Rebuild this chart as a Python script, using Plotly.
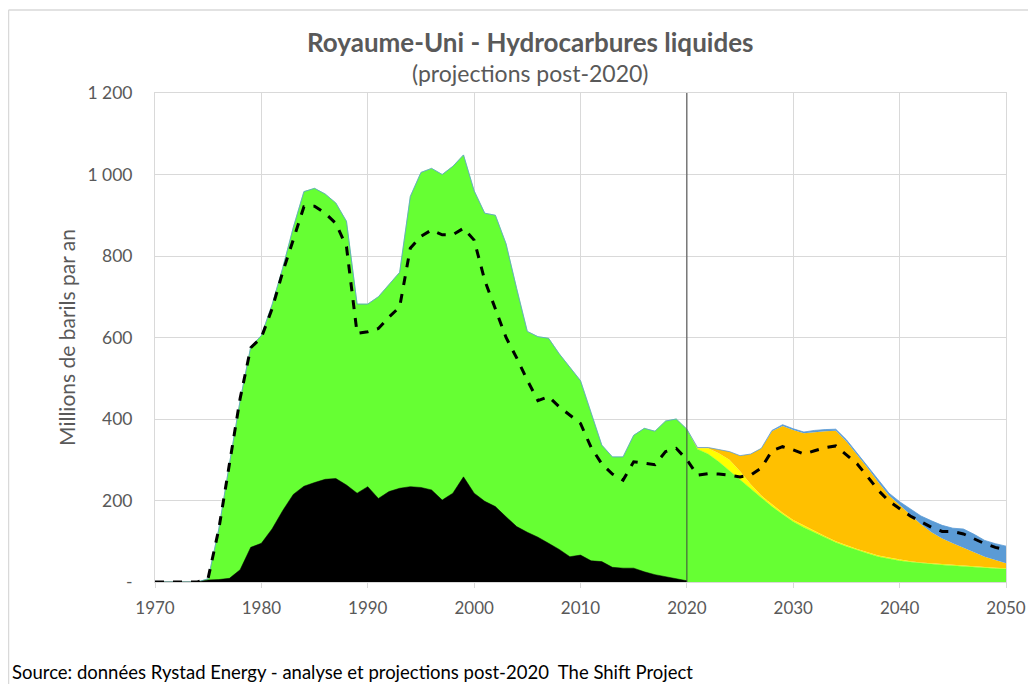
import plotly.graph_objects as go

# ---------------- data ----------------
hist_years = list(range(1970, 2021))
# green area: total liquids production (historical)
green_hist = [0, 0, 0, 0, 0, 8, 130, 290, 445, 577,
              605, 680, 770, 870, 958, 966, 952, 930, 885, 682,
              682, 700, 730, 760, 946, 1005, 1015, 1000, 1020, 1048,
              960, 905, 900, 830, 720, 615, 602, 598, 560, 528,
              494, 415, 336, 307, 307, 360, 377, 370, 395, 400,
              375]
# black area (historical)
black_hist = [0, 0, 0, 0, 0, 5, 6, 9, 30, 85,
              95, 130, 175, 215, 235, 244, 252, 254, 238, 218,
              234, 205, 222, 230, 234, 232, 226, 201, 218, 258,
              218, 198, 185, 160, 136, 122, 110, 95, 80, 62,
              66, 52, 50, 36, 34, 34, 25, 18, 13, 8,
              3]

proj_years = list(range(2021, 2051))
# projections post-2020 (stacked layers)
green_proj = [326, 314, 295, 273, 252, 230, 206, 185, 166, 148,
              134, 121, 109, 97, 87, 78, 70, 62, 57, 52,
              49, 46, 44, 42, 40, 38, 36, 34, 33, 32]
yellow_proj = [2, 14, 21, 27, 20, 10, 6, 5, 4, 4,
               4, 3, 3, 3, 3, 3, 3, 3, 3, 3,
               2, 2, 2, 2, 2, 2, 2, 2, 2, 2]
orange_proj = [2, 2, 9, 20, 38, 74, 116, 180, 213, 221,
               227, 244, 258, 271, 255, 231, 207, 180, 152, 134,
               114, 94, 76, 63, 53, 43, 35, 26, 19, 12]
blue_proj = [0, 0, 0, 0, 0, 0, 0, 2, 3, 3,
             3, 4, 4, 4, 4, 4, 5, 5, 6, 8,
             15, 20, 28, 32, 37, 47, 44, 40, 40, 42]

all_years = list(range(1970, 2051))
dashed_total = [0, 0, 0, 0, 0, 10, 130, 290, 450, 575,
                600, 670, 760, 840, 921, 922, 905, 880, 823, 610,
                614, 622, 650, 675, 819, 848, 864, 852, 852, 868,
                839, 740, 670, 600, 550, 495, 445, 455, 430, 410,
                389, 330, 290, 265, 250, 295, 292, 288, 320, 328,
                300, 262, 266, 265, 262, 258, 262, 280, 322, 332,
                324, 314, 322, 330, 334, 312, 290, 258, 225, 198,
                180, 162, 148, 134, 124, 124, 118, 105, 94, 85,
                79]

y_tickvals = [0, 200, 400, 600, 800, 1000, 1200]
y_ticktext = ["-", "200", "400", "600", "800", "1 000", "1 200"]
x_tickvals = [1970, 1980, 1990, 2000, 2010, 2020, 2030, 2040, 2050]

# ---------------- styles ----------------
GREEN = "#66FF33"
YELLOW = "#FFFF00"
ORANGE = "#FFC000"
BLUE = "#5B9BD5"
GRAY_TXT = "#595959"
GRID = "#D9D9D9"
FONT = "Lato"

# page has an 8px body margin: figure drawn at (8, 8)
W, H = 1028, 676
L, T = 147, 85
PW, PH = 851, 489
R = W - L - PW
B = H - T - PH


def px(fx):
    return (fx - L) / PW


def py(fy):
    return (T + PH - fy) / PH


fig = go.Figure()

green_all_x = hist_years + proj_years
green_all_y = green_hist + green_proj

fig.add_trace(go.Scatter(x=green_all_x, y=green_all_y, stackgroup="s",
                         mode="lines", line=dict(width=0.5, color=GREEN),
                         fillcolor=GREEN, stackgaps="infer zero"))
fig.add_trace(go.Scatter(x=proj_years, y=yellow_proj, stackgroup="s",
                         mode="lines", line=dict(width=0, color=YELLOW),
                         fillcolor=YELLOW))
fig.add_trace(go.Scatter(x=proj_years, y=orange_proj, stackgroup="s",
                         mode="lines", line=dict(width=0, color=ORANGE),
                         fillcolor=ORANGE))
fig.add_trace(go.Scatter(x=proj_years, y=blue_proj, stackgroup="s",
                         mode="lines", line=dict(width=0.8, color=BLUE),
                         fillcolor=BLUE))
fig.add_trace(go.Scatter(x=hist_years, y=black_hist, fill="tozeroy",
                         mode="lines", line=dict(width=0.5, color="#000000"),
                         fillcolor="#000000"))
fig.add_trace(go.Scatter(x=all_years, y=dashed_total, mode="lines",
                         line=dict(width=3, color="#000000", dash="dash")))

# vertical line at 2020
fig.add_shape(type="line", x0=2020, x1=2020, xref="x", y0=0, y1=1, yref="paper",
              line=dict(color="#404040", width=1), layer="above")

# outer light border (top and left)
fig.add_shape(type="line", xref="paper", yref="paper",
              x0=px(0.5), x1=px(W), y0=py(2), y1=py(2),
              line=dict(color="#D9D9D9", width=1.5), layer="below")
fig.add_shape(type="line", xref="paper", yref="paper",
              x0=px(0.5), x1=px(0.5), y0=py(2), y1=py(H),
              line=dict(color="#D9D9D9", width=1.5), layer="below")

fig.update_layout(
    width=W, height=H,
    margin=dict(l=L, r=R, t=T, b=B, autoexpand=False),
    paper_bgcolor="white", plot_bgcolor="white",
    showlegend=False,
    font=dict(family=FONT, color=GRAY_TXT),
    annotations=[
        dict(text="<b>Royaume-Uni - Hydrocarbures liquides</b>",
             xref="paper", yref="paper", x=px(522), y=py(34),
             xanchor="center", yanchor="middle", showarrow=False,
             font=dict(family=FONT, size=26, color=GRAY_TXT)),
        dict(text="(projections post-2020)",
             xref="paper", yref="paper", x=px(522), y=py(65),
             xanchor="center", yanchor="middle", showarrow=False,
             font=dict(family=FONT, size=23, color=GRAY_TXT)),
        dict(text="Source: données Rystad Energy - analyse et projections post-2020  The Shift Project",
             xref="paper", yref="paper", x=px(2), y=py(664),
             xanchor="left", yanchor="middle", showarrow=False,
             font=dict(family=FONT, size=18.5, color="#000000")),
    ],
)

fig.update_xaxes(range=[1970, 2050], tickvals=x_tickvals,
                 showgrid=True, gridcolor=GRID, gridwidth=1,
                 showline=True, linecolor=GRID, mirror=True,
                 ticks="outside", ticklen=5, tickcolor=GRID,
                 ticklabelstandoff=6, automargin=False,
                 tickfont=dict(family=FONT, size=17, color=GRAY_TXT),
                 zeroline=False)
fig.update_yaxes(range=[0, 1200], tickvals=y_tickvals, ticktext=y_ticktext,
                 showgrid=True, gridcolor=GRID, gridwidth=1,
                 showline=True, linecolor=GRID, mirror=True,
                 ticks="outside", ticklen=18, tickcolor="rgba(0,0,0,0)",
                 automargin=False,
                 tickfont=dict(family=FONT, size=17.5, color=GRAY_TXT),
                 zeroline=False,
                 title=dict(text="Millions de barils par an", standoff=6,
                            font=dict(family=FONT, size=21, color=GRAY_TXT)))

fig.write_html("out.html")
